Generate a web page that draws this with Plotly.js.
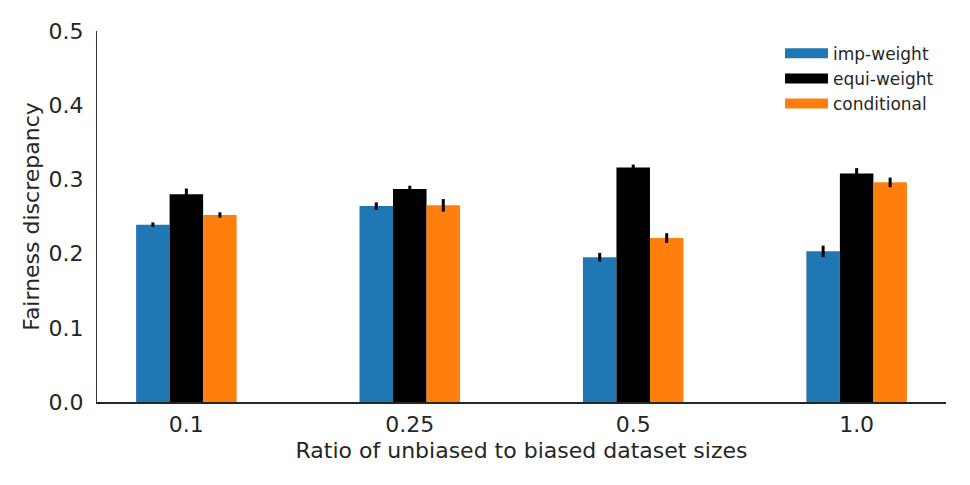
<!DOCTYPE html>
<html>
<head>
<meta charset="utf-8">
<script src="https://cdn.plot.ly/plotly-3.0.1.min.js"></script>
<style>html,body{margin:0;padding:0;background:#fff;}#chart{width:970px;height:485px;}</style>
</head>
<body>
<div id="chart"></div>
<script>
const categories = ["0.1", "0.25", "0.5", "1.0"];
const seriesNames = ["imp-weight", "equi-weight", "conditional"];
const impWeight = [0.239, 0.264, 0.195, 0.203];
const impWeightErr = [0.003, 0.005, 0.006, 0.0077];
const equiWeight = [0.280, 0.287, 0.316, 0.308];
const equiWeightErr = [0.0077, 0.0045, 0.004, 0.0072];
const conditional = [0.252, 0.265, 0.221, 0.296];
const conditionalErr = [0.0036, 0.0085, 0.0065, 0.0065];
const colors = ['#1f77b4', '#000000', '#ff7f0e'];

function trace(name, y, err, color) {
  return {
    type: 'bar', name: name, x: categories, y: y, showlegend: false,
    marker: {color: color},
    error_y: {type: 'data', array: err, visible: true, color: '#000', thickness: 3, width: 0}
  };
}
function legendTrace(name, color) {
  return {
    type: 'scatter', mode: 'lines', name: name, x: [categories[0]], y: [null],
    line: {color: color, width: 13}, showlegend: true, hoverinfo: 'skip'
  };
}
const data = [
  trace(seriesNames[0], impWeight, impWeightErr, colors[0]),
  trace(seriesNames[1], equiWeight, equiWeightErr, colors[1]),
  trace(seriesNames[2], conditional, conditionalErr, colors[2]),
  legendTrace(seriesNames[0], colors[0]),
  legendTrace(seriesNames[1], colors[1]),
  legendTrace(seriesNames[2], colors[2])
];
const layout = {
  width: 970, height: 485,
  margin: {l: 97, r: 24, t: 31, b: 83},
  paper_bgcolor: '#fff', plot_bgcolor: '#fff',
  font: {family: 'DejaVu Sans', color: '#262626', size: 22},
  barmode: 'group', bargap: 0.55, bargroupgap: 0,
  showlegend: true,
  legend: {x: 0.8045, y: 0.987, xanchor: 'left', yanchor: 'top', itemwidth: 43, font: {size: 17, color: '#262626'}, bgcolor: 'rgba(0,0,0,0)', tracegroupgap: 0},
  xaxis: {
    type: 'category', range: [-0.4, 3.4],
    showgrid: false, zeroline: false,
    showline: true, linecolor: '#262626', linewidth: 1.5,
    ticks: '', ticklabelstandoff: 2,
    tickfont: {size: 22},
    title: {text: 'Ratio of unbiased to biased dataset sizes', font: {size: 22}, standoff: 6}
  },
  yaxis: {
    range: [0, 0.5], dtick: 0.1, tickformat: '.1f',
    showgrid: false, zeroline: false,
    showline: true, linecolor: '#333', linewidth: 1,
    ticks: '', ticklabelstandoff: 8,
    tickfont: {size: 22},
    title: {text: 'Fairness discrepancy', font: {size: 22}, standoff: 2}
  }
};
Plotly.newPlot('chart', data, layout, {displayModeBar: false});
</script>
</body>
</html>
